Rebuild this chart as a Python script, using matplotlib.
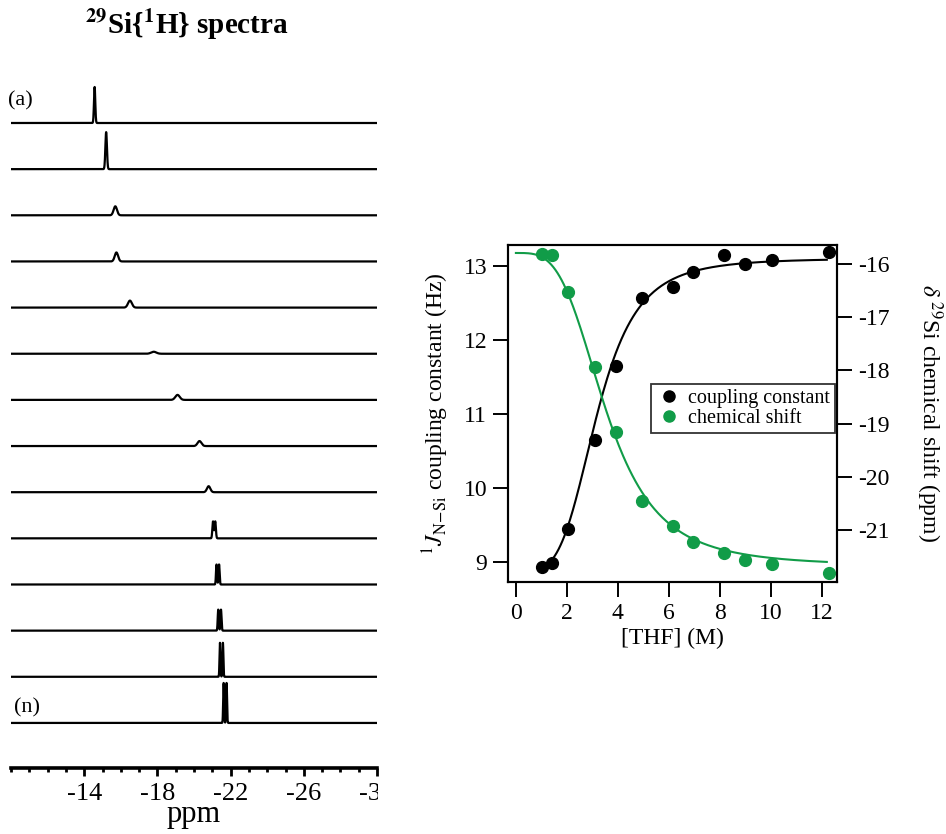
import numpy as np
import matplotlib
matplotlib.use("Agg")
import matplotlib.pyplot as plt
from matplotlib.transforms import Bbox, TransformedBbox
from matplotlib.lines import Line2D

plt.rcParams['font.family'] = ['Liberation Serif', 'DejaVu Serif']
plt.rcParams['mathtext.fontset'] = 'stix'
plt.rcParams['axes.unicode_minus'] = False

# --- 29Si{1H} spectra: peak centre (ppm), height (px), half-width (ppm), doublet split (ppm)
peak_ppm = [-14.57, -15.2, -15.7, -15.76, -16.5, -17.8, -19.1, -20.3, -20.8, -21.1, -21.3, -21.4, -21.5, -21.7]
peak_h = [36, 37, 9, 9, 7, 2, 5, 5, 6, 17, 20, 21, 34, 40]
peak_w = [0.05, 0.06, 0.13, 0.13, 0.15, 0.2, 0.17, 0.15, 0.13, 0.05, 0.04, 0.04, 0.035, 0.035]
peak_split = [0, 0, 0, 0, 0, 0, 0, 0, 0, 0.12, 0.14, 0.15, 0.16, 0.16]
ppm_ticks = [-14, -18, -22, -26, -30]

# --- titration data
thf = [1.03, 1.42, 2.06, 3.11, 3.91, 4.93, 6.16, 6.95, 8.18, 9.0, 10.04, 12.3]
coupling = [8.93, 8.99, 9.45, 10.65, 11.65, 12.56, 12.71, 12.92, 13.14, 13.03, 13.08, 13.18]
shift = [-15.80, -15.82, -16.52, -17.94, -19.15, -20.45, -20.92, -21.23, -21.43, -21.56, -21.64, -21.81]
# Hill-type fit parameters: bottom, top, K, n
fit_j = [8.87, 13.10, 3.18, 4.0]
fit_d = [-15.79, -21.68, 3.53, 3.48]

fig = plt.figure(figsize=(9.46, 8.34), dpi=100)
W, H = 946, 834

# ---------------- spectra panel ----------------
ax1 = fig.add_axes([11 / W, (H - 768) / H, (377 - 11) / W, (768 - 80) / H])
x = np.linspace(-10, -30, 4000)
base0, step = 123, 46.15
for k in range(len(peak_ppm)):
    s = peak_split[k]
    w = peak_w[k]
    if s > 0:
        prof = np.exp(-((x - peak_ppm[k] - s / 2) / w) ** 2) + np.exp(-((x - peak_ppm[k] + s / 2) / w) ** 2)
    else:
        prof = np.exp(-((x - peak_ppm[k]) / w) ** 2)
    prof = prof / prof.max()
    ax1.plot(x, base0 + step * k - peak_h[k] * prof, color='black', lw=1.6)
ax1.set_xlim(-10, -30)
ax1.set_ylim(768, 80)
for sp in ['top', 'left', 'right']:
    ax1.spines[sp].set_visible(False)
ax1.spines['bottom'].set_linewidth(2.6)
ax1.set_yticks([])
ax1.set_xticks(ppm_ticks)
ax1.set_xticks(np.arange(-10, -31, -1), minor=True)
ax1.tick_params(axis='x', which='major', direction='out', length=6, width=2, labelsize=19, pad=5)
ax1.tick_params(axis='x', which='minor', direction='out', length=3, width=2)
ax1.set_xticklabels([str(t) for t in ppm_ticks])
clip = TransformedBbox(Bbox([[0, 0], [378 / W, 1]]), fig.transFigure)
for t in ax1.xaxis.get_major_ticks():
    t.label1.set_clip_box(clip)
    t.label1.set_clip_on(True)
ax1.set_xlabel('ppm', fontsize=22, labelpad=-4)
fig.text(8 / W, (H - 101) / H, '(a)', fontsize=16, va='center')
fig.text(14 / W, (H - 708) / H, '(n)', fontsize=16, va='center')
fig.text(187 / W, (H - 24) / H, r'$\mathbf{^{29}}$Si{$\mathbf{^{1}}$H} spectra', fontsize=21,
         fontweight='bold', ha='center', va='center')

# ---------------- titration panel ----------------
green = '#119c48'
ax2 = fig.add_axes([508 / W, (H - 582) / H, (837 - 508) / W, (582 - 245) / H])
ax3 = ax2.twinx()
xf = np.linspace(1.0, 12.2, 300)
yj = fit_j[0] + (fit_j[1] - fit_j[0]) * xf ** fit_j[3] / (fit_j[2] ** fit_j[3] + xf ** fit_j[3])
xg = np.linspace(0.0, 12.2, 300)
yd = fit_d[0] + (fit_d[1] - fit_d[0]) * xg ** fit_d[3] / (fit_d[2] ** fit_d[3] + xg ** fit_d[3])
ax2.plot(xf, yj, color='black', lw=1.5)
ax2.plot(thf, coupling, 'o', color='black', ms=8.5)
ax3.plot(xg, yd, color=green, lw=1.5)
ax3.plot(thf, shift, 'o', color=green, ms=8.5)
ax2.set_xlim(-0.31, 12.6)
ax2.set_ylim(8.73, 13.28)
ax3.set_ylim(-21.98, -15.64)
ax2.set_xticks(range(0, 13, 2))
ax2.set_yticks([9, 10, 11, 12, 13])
ax3.set_yticks([-16, -17, -18, -19, -20, -21])
for a in (ax2, ax3):
    for sp in a.spines.values():
        sp.set_linewidth(1.5)
    a.tick_params(direction='out', length=11, width=1.4, labelsize=17, pad=4)
ax2.set_xlabel('[THF] (M)', fontsize=17, labelpad=3)
ax2.set_ylabel(r'$^{1}J_{\mathrm{N\!-\!Si}}$ coupling constant (Hz)', fontsize=17, labelpad=9)
ax3.set_ylabel(r'$\delta\ ^{29}$Si chemical shift (ppm)', fontsize=17, rotation=-90, labelpad=40)

handles = [Line2D([], [], marker='o', ls='none', color='black', ms=8, label='coupling constant'),
           Line2D([], [], marker='o', ls='none', color=green, ms=8, label='chemical shift')]
leg = ax2.legend(handles=handles, loc='upper left', bbox_to_anchor=((651 - 508) / 329, (582 - 384) / 337),
                 frameon=True, fancybox=False, fontsize=14.5, handletextpad=0.3, borderpad=0.25,
                 labelspacing=0.05, handlelength=1.3, borderaxespad=0)
leg.get_frame().set_edgecolor('black')
leg.get_frame().set_linewidth(1.3)

fig.savefig('out.png', dpi=100)
